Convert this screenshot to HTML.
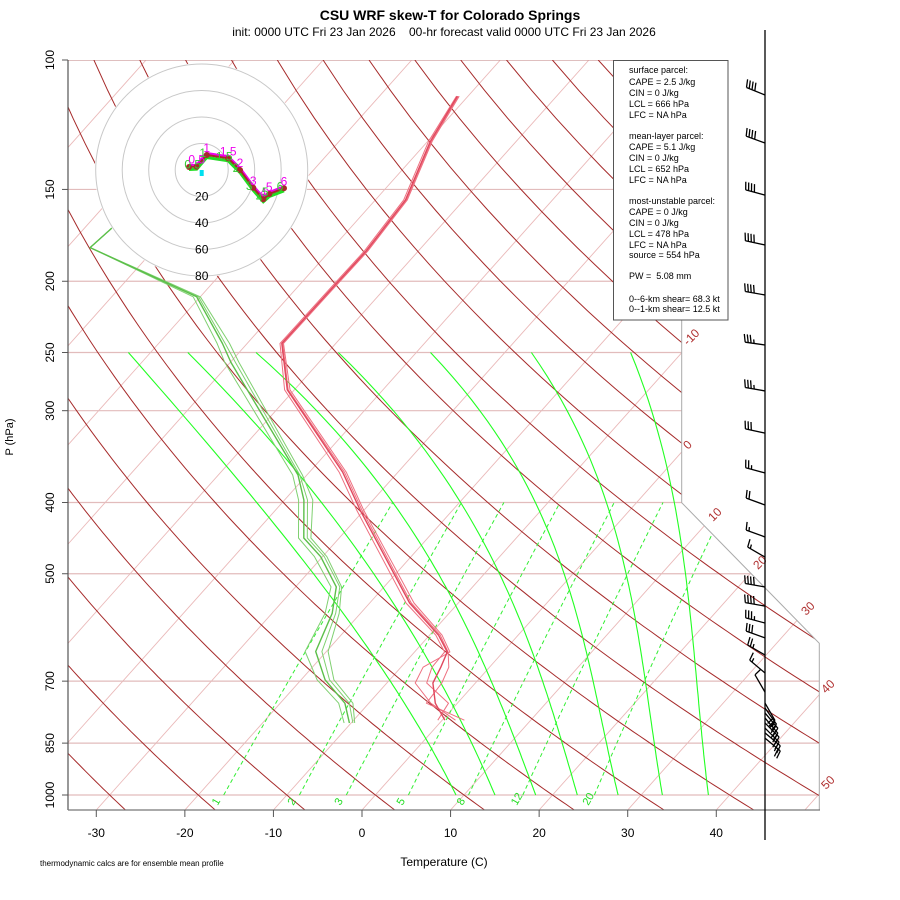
<!DOCTYPE html>
<html><head><meta charset="utf-8"><title>CSU WRF skew-T</title>
<style>
html,body{margin:0;padding:0;background:#fff;}
svg{display:block;font-family:"Liberation Sans",Arial,sans-serif;}
</style></head>
<body>
<svg id="chart" width="900" height="900" viewBox="0 0 900 900" xmlns="http://www.w3.org/2000/svg">
<defs>
<clipPath id="plotclip"><polygon points="68,60 681.7,60 681.7,502.7 819.3,643.3 819.3,810 68,810"/></clipPath>
</defs>
<rect x="0" y="0" width="900" height="900" fill="#fff"/>
<text x="450" y="20" text-anchor="middle" font-size="14" font-weight="bold">CSU WRF skew-T for Colorado Springs</text>
<text x="444" y="36" text-anchor="middle" font-size="12" xml:space="preserve">init: 0000 UTC Fri 23 Jan 2026    00-hr forecast valid 0000 UTC Fri 23 Jan 2026</text>
<g id="grid" clip-path="url(#plotclip)"></g>
<g id="series" clip-path="url(#plotclip)"></g>
<path d="M681.7,320 L681.7,502.7 L819.3,643.3 L819.3,810" fill="none" stroke="#aaa" stroke-width="1"/>
<g id="axes"></g>
<g id="hodo"></g>
<g id="barbs"></g>
<g font-size="9">
<rect x="613.5" y="60.5" width="114.5" height="259.5" fill="#fff" stroke="#555" stroke-width="1"/>
<text x="629" y="73">surface parcel:</text>
<text x="629" y="85">CAPE = 2.5 J/kg</text>
<text x="629" y="96">CIN = 0 J/kg</text>
<text x="629" y="107">LCL = 666 hPa</text>
<text x="629" y="118">LFC = NA hPa</text>
<text x="629" y="139">mean-layer parcel:</text>
<text x="629" y="150">CAPE = 5.1 J/kg</text>
<text x="629" y="161">CIN = 0 J/kg</text>
<text x="629" y="172">LCL = 652 hPa</text>
<text x="629" y="183">LFC = NA hPa</text>
<text x="629" y="204">most-unstable parcel:</text>
<text x="629" y="215">CAPE = 0 J/kg</text>
<text x="629" y="226">CIN = 0 J/kg</text>
<text x="629" y="237">LCL = 478 hPa</text>
<text x="629" y="248">LFC = NA hPa</text>
<text x="629" y="258">source = 554 hPa</text>
<text x="629" y="279" xml:space="preserve">PW =  5.08 mm</text>
<text x="629" y="302">0--6-km shear= 68.3 kt</text>
<text x="629" y="312">0--1-km shear= 12.5 kt</text>
</g>
<text x="444" y="866" text-anchor="middle" font-size="12">Temperature (C)</text>
<text transform="translate(13,437) rotate(-90)" text-anchor="middle" font-size="11">P (hPa)</text>
<text x="40" y="866" font-size="8">thermodynamic calcs are for ensemble mean profile</text>
<script>
// ---------- data ----------
const tPres = [112,129,155,182,206,243,281,364,410,548,606,639,670,704,750,791];
const tMean = [-61.2,-59.7,-56.6,-55.9,-56.0,-56.1,-50.8,-36.2,-30.4,-15.5,-9.0,-6.3,-5.5,-4.8,-2.5,0.3];
const tMem1 = [-61.0,-59.5,-56.4,-55.7,-55.8,-55.9,-50.5,-35.8,-30.0,-15.0,-8.6,-6.0,-7.5,-6.8,-3.0,1.5];
const tMem2 = [-61.3,-59.9,-56.8,-56.1,-56.2,-56.3,-51.1,-36.6,-30.8,-15.9,-9.3,-6.6,-6.5,-5.5,-1.0,-0.5];
const tMem3 = [-61.1,-59.6,-56.5,-55.8,-55.9,-56.0,-50.7,-36.0,-30.2,-15.3,-8.8,-6.2,-4.6,-3.8,-3.5,2.5];
const dPres = [150,169,180,210,243,258,367,397,447,474,521,566,638,697,750,798];
const dMean = [-90,-86.9,-87.4,-70.4,-62.8,-59.9,-41.0,-37.8,-34.0,-30.2,-25.4,-23.2,-21.2,-17.3,-12.7,-10.2];
const dMem1 = [-90,-86.9,-87.4,-70.0,-62.0,-59.0,-40.5,-36.8,-33.2,-29.5,-24.8,-22.4,-19.8,-16.3,-11.8,-9.6];
const dMem2 = [-90,-86.9,-87.4,-70.8,-63.4,-60.6,-41.6,-38.4,-34.6,-30.9,-26.0,-24.0,-22.4,-18.2,-13.4,-10.8];
const dMem3 = [-90,-86.9,-87.4,-70.2,-62.5,-59.4,-40.8,-37.4,-33.6,-29.8,-25.0,-22.8,-20.5,-16.8,-12.2,-9.8];
const mixRatios = [1,2,3,5,8,12,20];
const isoTemps = [-110,-100,-90,-80,-70,-60,-50,-40,-30,-20,-10,0,10,20,30,40,50];
const thetas = [-40,-30,-20,-10,0,10,20,30,40,50,60,70,80,90,100,110,120,130,140,150,160,170,180,190,200];
const moistPres = [250,500,700,1000];
const moist1 = [-72.5,-29.3,-9.8,9.1];
const moist2 = [-65.8,-22.5,-4.2,13.5];
const moist3 = [-58.1,-15.2,1.6,18.1];
const moist4 = [-48.8,-8.3,7.4,22.8];
const moist5 = [-38.4,-1.0,13.1,27.4];
const moist6 = [-27.0,6.0,19.0,32.4];
const moist7 = [-15.8,12.7,24.8,37.6];
const pLevels = [100,150,200,250,300,400,500,700,850,1000];
const xTicks = [-30,-20,-10,0,10,20,30,40];
const hodoU = [-9.6,-3.8,3.8,20,28.9,38.9,46.5,51,62.1];
const hodoV = [2.3,2.5,11.3,8.8,0,-13.4,-22.1,-18.1,-13.8];
const hodoRings = [20,40,60,80];
const hodoLabels = ["0.5","1","1.5","2","3","4","5","6"];
const hodoLabelIdx = [1,2,3,4,5,6,7,8];
const barbPres = [111.6,129.7,152.7,178.5,208.8,244.2,282,321.8,364.6,403.1,445.6,474.6,521.2,553.3,583.5,611.3,645,682.3,724.5,749.8,761.3,773.3,785.6,798,810.9,823,836.7];
const barbDir = [292,290,285,282,280,278,280,282,285,290,290,300,280,280,285,290,300,310,330,150,145,140,140,135,135,130,130];
const barbSpd = [40,40,40,40,40,35,35,30,25,20,15,15,40,40,35,30,25,15,10,20,20,25,25,25,20,20,20];

// ---------- scales ----------
const NS = "http://www.w3.org/2000/svg";
function yP(p){ return 795 - 735*Math.log10(1000/p); }
function xT(T,y){ return 362 + 8.857*T + 0.893*(810 - y); }
function mk(tag, attrs, parent){ const e=document.createElementNS(NS,tag); for(const k in attrs) e.setAttribute(k,attrs[k]); parent.appendChild(e); return e; }
const grid=document.getElementById('grid'), series=document.getElementById('series'), axes=document.getElementById('axes'), hodo=document.getElementById('hodo'), barbs=document.getElementById('barbs');

isoTemps.forEach(T=>{
  const l=mk('line',{x1:xT(T,810),y1:810,x2:xT(T,60),y2:60,stroke:'#eab9b9','stroke-width':0.9},grid);
  
  
});
pLevels.concat([1050]).forEach(p=>{
  const y=yP(p);
  const l=mk('line',{x1:68,y1:y,x2:820,y2:y,stroke:p===100?'#c99':'#e2bcbc','stroke-width':1.2},grid);
  
  
});
thetas.forEach(th=>{
  let d='';
  for(let p=1050;p>=100;p-=10){ const y=yP(p); const T=(th+273.15)*Math.pow(p/1000,0.286)-273.15; d+=(d?'L':'M')+xT(T,y).toFixed(1)+','+y.toFixed(1); }
  const e=mk('path',{d:d,fill:'none',stroke:'#a62a2a','stroke-width':1},grid);
  
  
});
function tdFromW(w,p){ const e=w*p/(622+w); const a=Math.log(e/6.112); return 243.5*a/(17.67-a); }
mixRatios.forEach(w=>{
  let d='';
  for(let p=1000;p>=400;p-=20){ const y=yP(p); d+=(d?'L':'M')+xT(tdFromW(w,p),y).toFixed(1)+','+y.toFixed(1); }
  const e=mk('path',{d:d,fill:'none',stroke:'#33ee33','stroke-width':1,'stroke-dasharray':'4,3'},grid);
  
  
  const x=xT(tdFromW(w,1000),795)-6, y=806;
  const t=mk('text',{x:x,y:y,fill:'#22dd22','font-size':11,transform:`rotate(-60 ${x} ${y})`},axes);
  t.textContent=w;
  
  
});
[moist1,moist2,moist3,moist4,moist5,moist6,moist7].forEach(arr=>{
  const ys=moistPres.map(yP);
  let d='';
  for(let p=250;p<=1000;p+=10){
    const y=yP(p); let T=0;
    for(let i=0;i<4;i++){ let L=1; for(let j=0;j<4;j++) if(j!==i) L*=(y-ys[j])/(ys[i]-ys[j]); T+=L*arr[i]; }
    d+=(d?'L':'M')+xT(T,y).toFixed(1)+','+y.toFixed(1);
  }
  const e=mk('path',{d:d,fill:'none',stroke:'#22ff22','stroke-width':1.1},grid);
  
  
});
function profile(P,T,color,w,name){
  const d=P.map((p,i)=>{const y=yP(p);return (i?'L':'M')+xT(T[i],y).toFixed(1)+','+y.toFixed(1);}).join('');
  const e=mk('path',{d:d,fill:'none',stroke:color,'stroke-width':w,'stroke-linejoin':'round'},series);
  
  
}
[dMem1,dMem2,dMem3].forEach(a=>profile(dPres,a,'#7fd070',1,'dewpoint-member'));
profile(dPres,dMean,'#5cbf4a',1.4,'dewpoint-mean');
[tMem1,tMem2,tMem3].forEach(a=>profile(tPres,a,'#ee7080',1,'temperature-member'));
profile(tPres,tMean,'#e0485e',1.4,'temperature-mean');

mk('line',{x1:68,y1:60,x2:68,y2:810,stroke:'#555','stroke-width':1.2},axes);
pLevels.forEach(p=>{
  const y=yP(p);
  mk('line',{x1:62,y1:y,x2:68,y2:y,stroke:'#555','stroke-width':1},axes);
  const t=mk('text',{x:50,y:y,'text-anchor':'middle','font-size':12,transform:`rotate(-90 50 ${y}) translate(0,4)`},axes);
  t.textContent=p;
  
  
});
mk('line',{x1:68,y1:810,x2:820,y2:810,stroke:'#777','stroke-width':1.2},axes);
xTicks.forEach(T=>{
  const x=xT(T,810);
  mk('line',{x1:x,y1:810,x2:x,y2:817,stroke:'#555','stroke-width':1},axes);
  const t=mk('text',{x:x,y:837,'text-anchor':'middle','font-size':12},axes);
  t.textContent=T;
  
  
});
[['-10',688,346],['0',688,450],['10',713,522],['20',758,570],['30',806,616],['40',826,694],['50',826,790]].forEach(a=>{
  const t=mk('text',{x:a[1],y:a[2],fill:'#b03030','font-size':12,transform:`rotate(-45 ${a[1]} ${a[2]})`},axes);
  t.textContent=a[0];
  
  
});

const hc={x:201.7,y:170}, hs=1.325;
mk('circle',{cx:hc.x,cy:hc.y,r:80*hs+1,fill:'#fff',stroke:'none'},hodo);
hodoRings.forEach(r=>{
  mk('circle',{cx:hc.x,cy:hc.y,r:r*hs,fill:'none',stroke:'#c8c8c8','stroke-width':1},hodo);
  const t=mk('text',{x:hc.x,y:hc.y+r*hs+4,'text-anchor':'middle','font-size':12},hodo);
  t.textContent=r;
  
  
});
function hpath(dx,dy,color,w,name){
  const d=hodoU.map((u,i)=>(i?'L':'M')+(hc.x+u*hs+dx).toFixed(1)+','+(hc.y-hodoV[i]*hs+dy).toFixed(1)).join('');
  const e=mk('path',{d:d,fill:'none',stroke:color,'stroke-width':w},hodo);
  
  
}
hpath(0,2.5,'#22dd22',3,'hodograph-green');
hpath(0,-1.5,'#ee00ee',3,'hodograph-magenta');
hpath(0,0,'#a52a2a',2,'hodograph-mean');
hodoU.forEach((u,i)=>{
  const c=mk('circle',{cx:hc.x+u*hs,cy:hc.y-hodoV[i]*hs,r:3,fill:'#a52a2a'},hodo);
  
  
});
mk('rect',{x:hc.x-2,y:hc.y,width:4,height:6,fill:'#00e0f0'},hodo);
hodoLabels.forEach((s,k)=>{
  const i=hodoLabelIdx[k]; const x=hc.x+hodoU[i]*hs, y=hc.y-hodoV[i]*hs;
  const g=mk('text',{x:x-4,y:y+2,fill:'#33cc33','font-size':12,'text-anchor':'middle'},hodo);
  g.textContent=s;
  
  
  const t=mk('text',{x:x,y:y-3,fill:'#ee00ee','font-size':12,'text-anchor':'middle'},hodo);
  t.textContent=s;
  
  
});

mk('line',{x1:765,y1:30,x2:765,y2:840,stroke:'#000','stroke-width':1.3},barbs);
barbPres.forEach((p,i)=>{
  const y=yP(p), x=765, L=20;
  const a=barbDir[i]*Math.PI/180;
  const ux=Math.sin(a), uy=-Math.cos(a);
  const fx=-uy, fy=ux;
  let d=`M${x},${y}L${(x+ux*L).toFixed(1)},${(y+uy*L).toFixed(1)}`;
  let s=barbSpd[i], pos=L;
  while(s>=10){ const bx=x+ux*pos, by=y+uy*pos; d+=`M${bx.toFixed(1)},${by.toFixed(1)}l${(fx*8+ux*2).toFixed(1)},${(fy*8+uy*2).toFixed(1)}`; pos-=3; s-=10; }
  if(s>=5){ if(pos===L) pos-=3; const bx=x+ux*pos, by=y+uy*pos; d+=`M${bx.toFixed(1)},${by.toFixed(1)}l${(fx*4+ux*1).toFixed(1)},${(fy*4+uy*1).toFixed(1)}`; }
  const e=mk('path',{d:d,fill:'none',stroke:'#000','stroke-width':1.3},barbs);
  
  
});
</script>
</svg>
</body></html>
